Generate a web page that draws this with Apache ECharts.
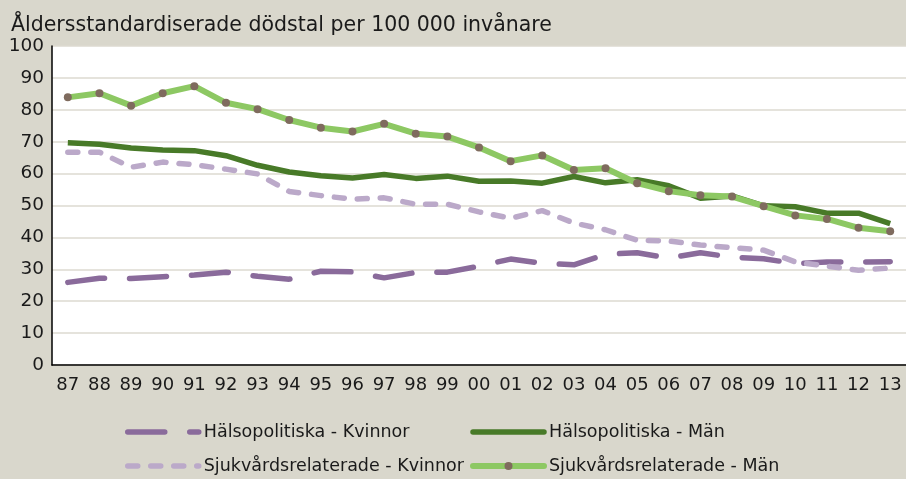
<!DOCTYPE html>
<html><head><meta charset="utf-8">
<script src="https://cdn.jsdelivr.net/npm/echarts@6/dist/echarts.min.js"></script>
<style>html,body{margin:0;padding:0;background:#d9d7cc;}#c{width:906px;height:479px;}</style>
</head><body><div id="c"></div>
<script>
const years = ['87','88','89','90','91','92','93','94','95','96','97','98','99','00','01','02','03','04','05','06','07','08','09','10','11','12','13'];
const halsoKvinnor = [25.9,27.2,27.1,27.7,28.2,29.1,27.8,26.9,29.4,29.2,27.3,29.0,29.1,31.0,33.2,31.9,31.4,34.7,35.2,33.5,35.2,33.8,33.3,31.8,32.3,32.3,32.4];
const halsoMan = [69.7,69.2,68.0,67.4,67.2,65.6,62.6,60.5,59.3,58.6,59.7,58.5,59.2,57.6,57.7,57.0,59.1,57.1,58.1,56.2,52.3,53.0,49.9,49.6,47.6,47.6,44.3];
const sjukKvinnor = [66.7,66.7,62.0,63.6,62.8,61.4,59.9,54.4,53.1,52.0,52.4,50.4,50.4,48.0,46.0,48.4,44.5,42.4,39.1,38.9,37.6,36.8,36.0,32.3,31.0,29.7,30.4];
const sjukMan = [83.9,85.2,81.3,85.2,87.4,82.2,80.2,76.8,74.4,73.2,75.6,72.5,71.6,68.2,63.9,65.7,61.1,61.7,57.0,54.5,53.2,52.8,49.8,46.9,45.8,43.0,41.9];
const names = ['Hälsopolitiska - Kvinnor','Hälsopolitiska - Män','Sjukvårdsrelaterade - Kvinnor','Sjukvårdsrelaterade - Män'];
const title = 'Åldersstandardiserade dödstal per 100 000 invånare';

const font = 'DejaVu Sans';
const noSym = {color:'rgba(0,0,0,0)',borderWidth:0,opacity:0};
const legText = {fontFamily:font,fontSize:17.5,color:'#1a1a1a'};
const chart = echarts.init(document.getElementById('c'), null, {renderer:'canvas'});
chart.setOption({
  backgroundColor:'#d9d7cc',
  animation:false,
  textStyle:{fontFamily:font},
  title:{text:title,left:6,top:10,textStyle:{fontFamily:font,fontSize:20.5,fontWeight:'normal',color:'#1a1a1a'}},
  grid:{left:52,right:-4,top:46,bottom:114,show:true,backgroundColor:'#ffffff',borderWidth:0},
  xAxis:{type:'category',data:years,boundaryGap:true,
    axisLine:{lineStyle:{color:'#000',width:1.5}},
    axisTick:{inside:true,length:5,lineStyle:{color:'#000'}},
    axisLabel:{fontFamily:font,fontSize:18,color:'#1a1a1a',margin:11}},
  yAxis:{type:'value',min:0,max:100,interval:10,
    axisLine:{show:true,lineStyle:{color:'#000',width:1.5}},
    axisTick:{show:false},
    splitLine:{lineStyle:{color:'#dcdad0',width:1.5}},
    axisLabel:{fontFamily:font,fontSize:18.5,color:'#1a1a1a',margin:8}},
  legend:[
    {data:[
       {name:names[0],itemStyle:noSym,lineStyle:{width:5.5,type:[37,25],cap:'round'}},
       {name:names[2],itemStyle:noSym,lineStyle:{width:5.5,type:[10,13],cap:'round'}}],
     orient:'vertical',left:120,top:418,height:80,itemWidth:71,itemHeight:10,itemGap:16,textStyle:legText},
    {data:[
       {name:names[1],itemStyle:noSym,lineStyle:{width:5.5,cap:'round'}},
       {name:names[3],lineStyle:{width:6,cap:'round'}}],
     orient:'vertical',left:465,top:418,height:80,itemWidth:71,itemHeight:10,itemGap:16,textStyle:legText}
  ],
  series:[
    {name:names[0],type:'line',data:halsoKvinnor,symbol:'none',z:2,
     itemStyle:{color:'#8a6b9b'},
     lineStyle:{color:'#8a6b9b',width:5.5,type:[37,25],cap:'round'}},
    {name:names[2],type:'line',data:sjukKvinnor,symbol:'none',z:3,
     itemStyle:{color:'#bba9c9'},
     lineStyle:{color:'#bba9c9',width:5.5,type:[10,13],cap:'round'}},
    {name:names[1],type:'line',data:halsoMan,symbol:'none',z:4,
     itemStyle:{color:'#487a28'},
     lineStyle:{color:'#487a28',width:5.5}},
    {name:names[3],type:'line',data:sjukMan,symbol:'circle',symbolSize:8,showSymbol:true,z:5,
     itemStyle:{color:'#7f6b5e',borderWidth:0},
     lineStyle:{color:'#8dc863',width:6}}
  ]
});
</script></body></html>
